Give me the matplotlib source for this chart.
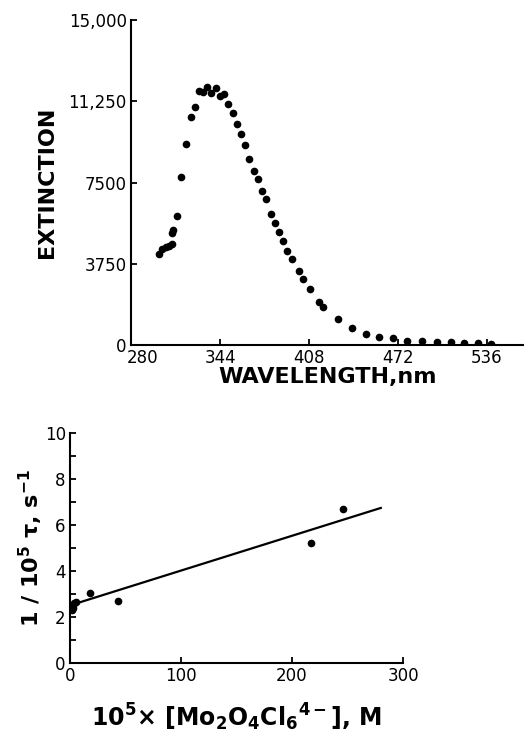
from matplotlib import pyplot as plt
from matplotlib.transforms import ScaledTranslation
import numpy as np

plt.rcParams['font.family'] = ['DejaVu Sans']
plt.rcParams['mathtext.default'] = 'bf'

# top panel: absorption spectrum
wavelength = [300, 302.5, 305, 307.3, 309.7, 309.7, 309.9, 313, 316, 319.5, 323, 326,
              329, 331.5, 334.4, 337.7, 341, 344, 347, 350, 353.3, 356.2, 358.9, 362,
              365, 368.4, 371.5, 374.4, 376.8, 380.4, 383.8, 386.4, 389.5, 392.4, 395.5,
              400.8, 403.4, 408.7, 415, 418.3, 428.9, 438.7, 448.8, 458.3, 468.6, 478.7,
              489, 499.8, 509.9, 519.4, 529.7, 538.6]
extinction = [4215, 4430, 4508, 4569, 4646, 5154, 5307, 5954, 7754, 9262, 10508, 11000,
              11738, 11677, 11923, 11615, 11877, 11508, 11569, 11123, 10692, 10200, 9738, 9246,
              8600, 8030, 7677, 7123, 6738, 6046, 5615, 5230, 4800, 4338, 3984,
              3415, 3061, 2584, 1985, 1769, 1200, 800, 523, 354, 308, 200,
              185, 123, 123, 92, 92, 60]
wl_ticks = [280, 344, 408, 472, 536]
ext_ticks = [0, 3750, 7500, 11250, 15000]
ext_labels = ['0', '3750', '7500', '11,250', '15,000']

# bottom panel: 1/tau vs concentration
conc = [2, 3, 3, 4, 5, 18, 43, 217, 246]
rate = [2.3, 2.4, 2.5, 2.6, 2.65, 3.03, 2.68, 5.21, 6.69]
fit_x = [0, 280]
fit_y = [2.5, 6.75]

fig = plt.figure(figsize=(5.24, 7.33), dpi=100)

ax1 = fig.add_axes([0.25, 0.5293, 0.75, 0.4434])
ax1.plot(wavelength, extinction, 'o', color='black', markersize=4.5)
ax1.set_xlim(280, 562.6)
ax1.set_ylim(0, 15000)
ax1.set_xticks(wl_ticks)
ax1.set_yticks(ext_ticks)
ax1.set_yticklabels(ext_labels)
ax1.set_xlabel('WAVELENGTH,nm', fontsize=16, fontweight='bold', labelpad=0)
ax1.set_ylabel('EXTINCTION', fontsize=16, fontweight='bold', labelpad=8)

ax2 = fig.add_axes([0.1336, 0.0959, 0.6355, 0.3128])
ax2.plot(conc, rate, 'o', color='black', markersize=4.5)
ax2.plot(fit_x, fit_y, '-', color='black', linewidth=1.6)
ax2.set_xlim(0, 300)
ax2.set_ylim(0, 10)
ax2.set_xticks([0, 100, 200, 300])
ax2.set_yticks([0, 2, 4, 6, 8, 10])
ax2.set_yticks([1, 3, 5, 7, 9], minor=True)
ax2.set_xlabel(r'10$^{5}$$\times$ [Mo$_{2}$O$_{4}$Cl$_{6}$$^{4-}$], M', fontsize=17,
               fontweight='bold', labelpad=12)
ax2.set_ylabel(r'1 / 10$^{5}$ $\tau$, s$^{-1}$', fontsize=16, fontweight='bold', labelpad=0)

for ax in (ax1, ax2):
    ax.spines['top'].set_visible(False)
    ax.spines['right'].set_visible(False)
    ax.spines['left'].set_linewidth(1.5)
    ax.spines['bottom'].set_linewidth(1.5)
    ax.tick_params(direction='in', length=4, width=1.3, labelsize=12, pad=3)
    ax.tick_params(which='minor', direction='in', length=4, width=1.3)

# nudge the first wavelength label right so it clears the "0"
first = ax1.get_xticklabels()[0]
first.set_transform(first.get_transform() + ScaledTranslation(8 / 72, 0, fig.dpi_scale_trans))

fig.savefig('out.png', dpi=100)
